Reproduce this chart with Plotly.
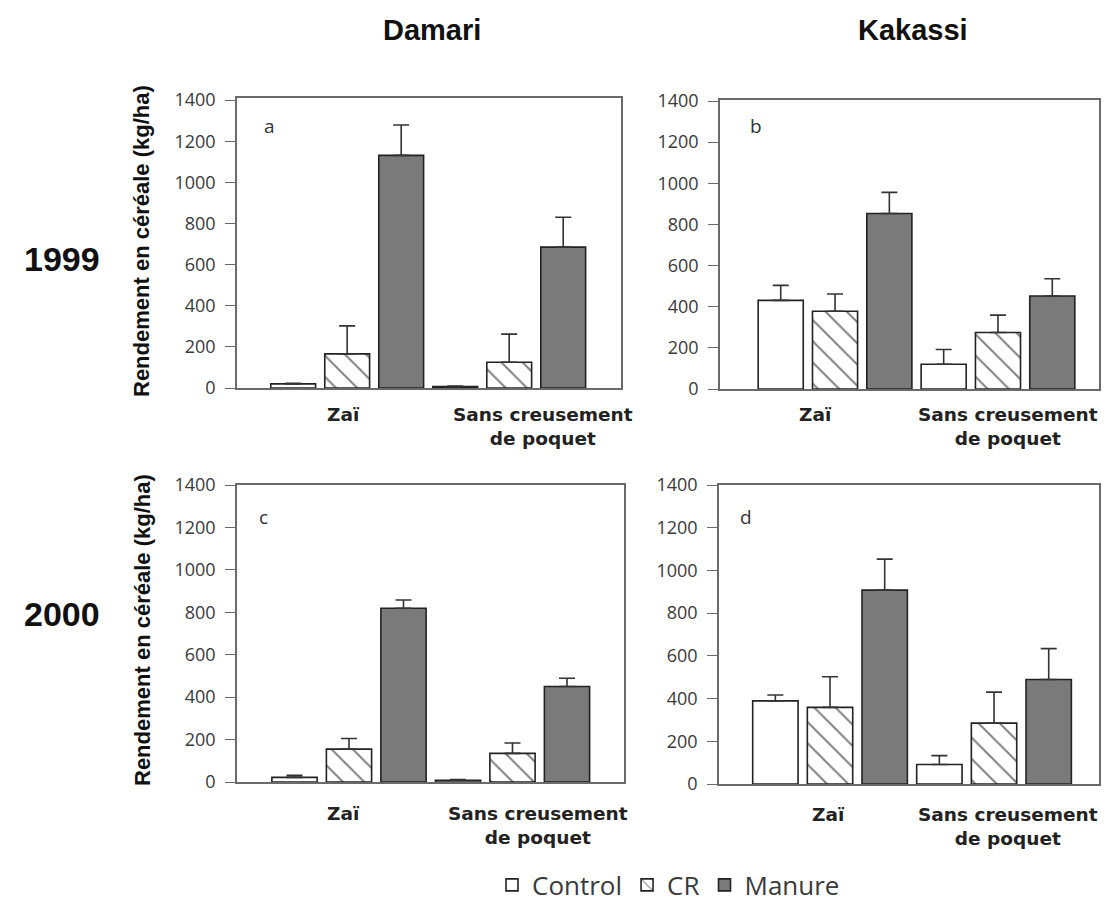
import plotly.graph_objects as go

# ---------------- data ----------------
groups = ["Zaï", "Sans creusement de poquet"]
group_labels = ["Zaï", "Sans creusement<br>de poquet"]
series = ["Control", "CR", "Manure"]
sites = ["Damari", "Kakassi"]
years = ["1999", "2000"]
panel_letters = ["a", "b", "c", "d"]
y_ticks = [0, 200, 400, 600, 800, 1000, 1200, 1400]
y_title = "Rendement en céréale (kg/ha)"

# a : Damari 1999
damari_1999_control = [20, 7]
damari_1999_control_se = [3, 3]
damari_1999_cr = [166, 125]
damari_1999_cr_se = [136, 137]
damari_1999_manure = [1131, 685]
damari_1999_manure_se = [148, 145]

# b : Kakassi 1999
kakassi_1999_control = [431, 120]
kakassi_1999_control_se = [73, 72]
kakassi_1999_cr = [378, 275]
kakassi_1999_cr_se = [84, 84]
kakassi_1999_manure = [853, 452]
kakassi_1999_manure_se = [103, 84]

# c : Damari 2000
damari_2000_control = [22, 8]
damari_2000_control_se = [9, 3]
damari_2000_cr = [155, 135]
damari_2000_cr_se = [50, 49]
damari_2000_manure = [819, 450]
damari_2000_manure_se = [39, 39]

# d : Kakassi 2000
kakassi_2000_control = [389, 91]
kakassi_2000_control_se = [28, 42]
kakassi_2000_cr = [359, 285]
kakassi_2000_cr_se = [143, 145]
kakassi_2000_manure = [908, 489]
kakassi_2000_manure_se = [145, 145]

# ---------------- layout helpers ----------------
OFF = 8  # page body margin offset
W, H = 1109 - OFF, 912 - 2 * OFF  # figure size that fits the window without scrolling


def fx(p):
    return (p - OFF) / W


def fy(p):
    return 1 - (p - OFF) / H


panels = [
    dict(vals=[damari_1999_control, damari_1999_cr, damari_1999_manure],
         se=[damari_1999_control_se, damari_1999_cr_se, damari_1999_manure_se],
         xd=(237, 621), yd=(98, 388), xr=(-0.68, 1.69), yr=(0, 1410),
         letter=(269, 126), lab_x=(343, 543), lab_y=402),
    dict(vals=[kakassi_1999_control, kakassi_1999_cr, kakassi_1999_manure],
         se=[kakassi_1999_control_se, kakassi_1999_cr_se, kakassi_1999_manure_se],
         xd=(720, 1099), yd=(100, 389), xr=(-0.706, 1.620), yr=(0, 1405),
         letter=(756, 126), lab_x=(815, 1008), lab_y=402),
    dict(vals=[damari_2000_control, damari_2000_cr, damari_2000_manure],
         se=[damari_2000_control_se, damari_2000_cr_se, damari_2000_manure_se],
         xd=(237, 624), yd=(485, 782), xr=(-0.685, 1.682), yr=(0, 1400),
         letter=(263, 517), lab_x=(343, 538), lab_y=801),
    dict(vals=[kakassi_2000_control, kakassi_2000_cr, kakassi_2000_manure],
         se=[kakassi_2000_control_se, kakassi_2000_cr_se, kakassi_2000_manure_se],
         xd=(719, 1099), yd=(485, 784), xr=(-0.677, 1.640), yr=(0, 1400),
         letter=(746, 517), lab_x=(828, 1008), lab_y=802),
]

fills = {"Control": "#ffffff", "CR": "#ffffff", "Manure": "#7a7a7a"}
patterns = {
    "Control": dict(shape=""),
    "CR": dict(shape="\\", fgcolor="#000000", bgcolor="#ffffff", size=15, solidity=0.13),
    "Manure": dict(shape=""),
}

fig = go.Figure()
layout = dict()
annotations = []
axis_color = "#6a6a6a"

for i, p in enumerate(panels):
    n = "" if i == 0 else str(i + 1)
    for s_idx, s in enumerate(series):
        fig.add_trace(go.Bar(
            x=groups, y=p["vals"][s_idx], name=s,
            xaxis="x" + n, yaxis="y" + n,
            offsetgroup=s, legendgroup=s, showlegend=(i == 0),
            marker=dict(color=fills[s], line=dict(color="#222222", width=1.6),
                        pattern=patterns[s]),
            error_y=dict(type="data", symmetric=False, array=p["se"][s_idx],
                         arrayminus=[0] * len(groups), color="#333333",
                         thickness=1.6, width=8),
        ))
    layout["xaxis" + n] = dict(
        domain=[fx(p["xd"][0]), fx(p["xd"][1])], anchor="y" + n,
        range=list(p["xr"]), type="category", showticklabels=False,
        ticks="", showline=True, linecolor=axis_color, linewidth=1.6,
        mirror=True, showgrid=False, zeroline=False, fixedrange=True)
    layout["yaxis" + n] = dict(
        domain=[fy(p["yd"][1]), fy(p["yd"][0])], anchor="x" + n,
        range=list(p["yr"]), tickvals=y_ticks, ticks="outside", ticklen=10,
        tickwidth=1.4, tickcolor=axis_color, showline=True, linecolor=axis_color,
        linewidth=1.6, mirror=True, showgrid=False, zeroline=False,
        ticklabelstandoff=6, automargin=False,
        tickfont=dict(family="Open Sans", size=18, color="#3a3a3a"))
    # panel letter
    annotations.append(dict(
        text=panel_letters[i], x=fx(p["letter"][0]), y=fy(p["letter"][1]),
        xref="paper", yref="paper", showarrow=False, xanchor="center",
        yanchor="middle", font=dict(family="Open Sans", size=19, color="#333333")))
    # group labels
    for g_idx, g in enumerate(group_labels):
        annotations.append(dict(
            text=g, x=fx(p["lab_x"][g_idx]), y=fy(p["lab_y"]),
            xref="paper", yref="paper", showarrow=False, xanchor="center",
            yanchor="top", align="center",
            font=dict(family="DejaVu Sans", size=18.5, color="#222222",
                      weight="bold")))

# column titles
for site, cx in zip(sites, [432, 913]):
    annotations.append(dict(
        text=site, x=fx(cx), y=fy(30), xref="paper", yref="paper",
        showarrow=False, xanchor="center", yanchor="middle",
        font=dict(family="Liberation Sans", size=29, color="#111111",
                  weight="bold")))

# row labels
for yr, cy in zip(years, [259, 614]):
    annotations.append(dict(
        text=yr, x=fx(62), y=fy(cy), xref="paper", yref="paper",
        showarrow=False, xanchor="center", yanchor="middle",
        font=dict(family="Liberation Sans", size=34, color="#111111",
                  weight="bold")))

# y axis titles
for cy in [241, 630]:
    annotations.append(dict(
        text=y_title, x=fx(142), y=fy(cy), xref="paper", yref="paper",
        showarrow=False, xanchor="center", yanchor="middle", textangle=-90,
        font=dict(family="Liberation Sans", size=22, color="#111111",
                  weight="bold")))

fig.update_layout(
    **layout,
    width=W, height=H,
    margin=dict(l=0, r=0, t=0, b=0, pad=0, autoexpand=False),
    paper_bgcolor="white", plot_bgcolor="white",
    barmode="group", bargap=0.0, bargroupgap=0.17,
    annotations=annotations,
    showlegend=True,
    legend=dict(orientation="h", x=fx(492), xanchor="left",
                y=fy(885), yanchor="middle",
                font=dict(family="Open Sans", size=26, color="#3a3a3a"),
                itemwidth=30, tracegroupgap=0, bgcolor="rgba(0,0,0,0)"),
)

fig.write_html("out.html")
